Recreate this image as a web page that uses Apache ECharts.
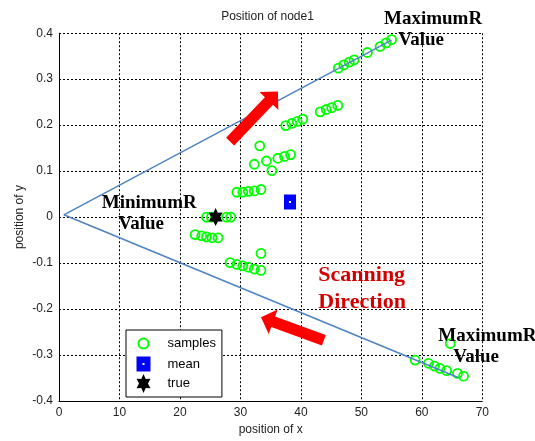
<!DOCTYPE html>
<html>
<head>
<meta charset="utf-8">
<script src="https://cdn.jsdelivr.net/npm/echarts@6/dist/echarts.min.js"></script>
<style>
  html, body { margin: 0; padding: 0; background: #fff; }
  #chart { width: 535px; height: 441px; }
</style>
</head>
<body>
<div id="chart"></div>
<script>
// Sample positions of node1 (x, y)
const sampleX = [24.4, 25.2, 27.7, 28.4,
  22.5, 23.6, 24.4, 25.3, 26.3,
  28.3, 29.4, 30.4, 31.3, 32.3, 33.4, 33.4,
  29.4, 30.4, 31.3, 32.3, 33.4,
  33.2, 32.3, 34.3, 35.2, 36.2, 37.3, 38.3,
  37.5, 38.5, 39.4, 40.3,
  43.2, 44.2, 45.1, 46.1,
  46.2, 47.1, 48.0, 48.8, 51.0, 53.1, 54.1, 55.0,
  58.9, 61.1, 62.1, 63.0, 64.1, 65.9, 66.9, 64.7];
const sampleY = [0.000, 0.000, 0.000, 0.000,
  -0.038, -0.041, -0.043, -0.045, -0.045,
  -0.099, -0.103, -0.106, -0.109, -0.113, -0.116, -0.079,
  0.054, 0.054, 0.056, 0.057, 0.060,
  0.155, 0.115, 0.122, 0.101, 0.128, 0.132, 0.136,
  0.199, 0.204, 0.208, 0.213,
  0.229, 0.234, 0.238, 0.243,
  0.324, 0.331, 0.337, 0.342, 0.358, 0.371, 0.379, 0.386,
  -0.311, -0.318, -0.324, -0.329, -0.334, -0.340, -0.346, -0.275];

const meanPos = [38.2, 0.033];
const truePos = [25.9, 0.0];

// Range boundaries of the scan sector
const upperBound = [[0.8, 0.005], [55.0, 0.385]];
const lowerBound = [[0.8, 0.005], [66.0, -0.349]];

// Scanning direction arrows: [tailX, tailY, tipX, tipY]
const scanArrows = [[28.3, 0.164, 36.2, 0.273], [43.8, -0.268, 33.4, -0.218]];

const legendNames = ['samples', 'mean', 'true'];

const sans = '"Liberation Sans", Arial, sans-serif';
const serif = '"Liberation Serif", "Times New Roman", serif';

// six-pointed star outline, w x h box, inner radius ratio k
function hexagramPath(w, h, k) {
  const sx = (w / 2) / Math.sin(Math.PI / 3), sy = h / 2;
  const pts = [];
  for (let i = 0; i < 12; i++) {
    const t = i * Math.PI / 6;
    const r = (i % 2 === 0) ? 1 : k;
    pts.push([(w / 2 + r * sx * Math.sin(t)).toFixed(2), (h / 2 - r * sy * Math.cos(t)).toFixed(2)]);
  }
  return 'path://M' + pts.map(p => p.join(',')).join('L') + 'Z';
}

const starSymbol = hexagramPath(14, 19, 0.55);
const meanSymbol = 'path://M0,0H12V15H0Z M5,6.5V8.5H7V6.5Z';
const meanLegendIcon = 'path://M0,0M0,19M0,2H14V17H0Z M6,8.5V10.5H8V8.5Z';
const circleLegendIcon = 'path://M0,0M19,19M14.5,9.5A5,5,0,1,1,4.5,9.5A5,5,0,1,1,14.5,9.5Z';

const chart = echarts.init(document.getElementById('chart'), null, { renderer: 'canvas' });

const samples = sampleX.map((x, i) => [x, sampleY[i]]);

const option = {
  animation: false,
  backgroundColor: '#fff',
  title: {
    text: 'Position of node1',
    left: 'center',
    top: 6,
    textStyle: { fontFamily: sans, fontSize: 12, fontWeight: 'normal', color: '#222' }
  },
  grid: { left: 59, top: 33.2, width: 423.3, height: 368.5 },
  xAxis: {
    type: 'value', min: 0, max: 70, interval: 10,
    name: 'position of x', nameLocation: 'middle', nameGap: 23,
    nameMoveOverlap: false,
    nameTextStyle: { fontFamily: sans, fontSize: 12, color: '#222' },
    axisLine: { show: true, onZero: false, lineStyle: { color: '#000', width: 1 } },
    axisTick: { show: false },
    axisLabel: { fontFamily: sans, fontSize: 12, color: '#222', margin: 6 },
    splitLine: { show: true, lineStyle: { color: '#000', type: [2, 2], width: 1 } }
  },
  yAxis: {
    type: 'value', min: -0.4, max: 0.4, interval: 0.1,
    name: 'position of y', nameLocation: 'middle', nameGap: 33,
    nameMoveOverlap: false,
    nameTextStyle: { fontFamily: sans, fontSize: 12, color: '#222' },
    axisLine: { show: true, onZero: false, lineStyle: { color: '#000', width: 1 } },
    axisTick: { show: false },
    axisLabel: { fontFamily: sans, fontSize: 12, color: '#222', margin: 6 },
    splitLine: { show: true, lineStyle: { color: '#000', type: [2, 2], width: 1 } }
  },
  legend: {
    orient: 'vertical',
    left: 126, top: 330,
    itemWidth: 38, itemHeight: 19, itemGap: 0.5,
    padding: [3, 6, 4, 7],
    backgroundColor: '#fff',
    borderColor: '#000', borderWidth: 1, borderRadius: 0,
    selectedMode: false,
    textStyle: { fontFamily: sans, fontSize: 13, color: '#000' },
    data: [
      { name: legendNames[0], icon: circleLegendIcon,
        itemStyle: { color: 'rgba(0,0,0,0)', borderColor: '#00ff00', borderWidth: 2 } },
      { name: legendNames[1], icon: meanLegendIcon,
        itemStyle: { color: '#0000ff', borderWidth: 0 } },
      { name: legendNames[2], icon: starSymbol,
        itemStyle: { color: '#000', borderWidth: 0 } }
    ]
  },
  series: [
    {
      name: legendNames[0], type: 'scatter', data: samples,
      symbol: 'circle', symbolSize: 9,
      itemStyle: { color: 'rgba(0,0,0,0)', borderColor: '#00ff00', borderWidth: 1.8, opacity: 1 },
      z: 3
    },
    {
      type: 'line', data: upperBound, symbol: 'none', silent: true,
      lineStyle: { color: '#4f83c2', width: 1.5 }, z: 4
    },
    {
      type: 'line', data: lowerBound, symbol: 'none', silent: true,
      lineStyle: { color: '#4f83c2', width: 1.5 }, z: 4
    },
    {
      name: legendNames[1], type: 'scatter', data: [meanPos],
      symbol: meanSymbol, symbolSize: [12, 15],
      itemStyle: { color: '#0000ff', opacity: 1 }, z: 5
    },
    {
      name: legendNames[2], type: 'scatter', data: [truePos],
      symbol: starSymbol, symbolSize: [14, 18],
      itemStyle: { color: '#000', opacity: 1 }, z: 6
    },
    {
      type: 'custom', data: scanArrows, silent: true, z: 7,
      encode: { x: [0, 2], y: [1, 3] },
      renderItem: function (params, api) {
        const a = api.coord([api.value(0), api.value(1)]);
        const b = api.coord([api.value(2), api.value(3)]);
        const dx = b[0] - a[0], dy = b[1] - a[1];
        const len = Math.hypot(dx, dy);
        const ux = dx / len, uy = dy / len, nx = -uy, ny = ux;
        const headLen = 13, headHalf = 13, shaftHalf = 5.6;
        const bx = b[0] - ux * headLen, by = b[1] - uy * headLen;
        const pts = [
          [a[0] + nx * shaftHalf, a[1] + ny * shaftHalf],
          [bx + nx * shaftHalf, by + ny * shaftHalf],
          [bx + nx * headHalf, by + ny * headHalf],
          [b[0], b[1]],
          [bx - nx * headHalf, by - ny * headHalf],
          [bx - nx * shaftHalf, by - ny * shaftHalf],
          [a[0] - nx * shaftHalf, a[1] - ny * shaftHalf]
        ];
        return { type: 'polygon', shape: { points: pts }, style: { fill: '#ff0000' } };
      }
    }
  ],
  graphic: [
    { type: 'text', x: 384, y: 19.3, z: 100,
      style: { text: 'MaximumR', font: 'bold 19px ' + serif, fill: '#000', align: 'left', verticalAlign: 'middle' } },
    { type: 'text', x: 398.3, y: 40.5, z: 100,
      style: { text: 'Value', font: 'bold 19px ' + serif, fill: '#000', align: 'left', verticalAlign: 'middle' } },
    { type: 'text', x: 101.7, y: 203.3, z: 100,
      style: { text: 'MinimumR', font: 'bold 19px ' + serif, fill: '#000', align: 'left', verticalAlign: 'middle' } },
    { type: 'text', x: 118.3, y: 224.3, z: 100,
      style: { text: 'Value', font: 'bold 19px ' + serif, fill: '#000', align: 'left', verticalAlign: 'middle' } },
    { type: 'text', x: 438.3, y: 335.8, z: 100,
      style: { text: 'MaximumR', font: 'bold 19px ' + serif, fill: '#000', align: 'left', verticalAlign: 'middle' } },
    { type: 'text', x: 453.3, y: 357, z: 100,
      style: { text: 'Value', font: 'bold 19px ' + serif, fill: '#000', align: 'left', verticalAlign: 'middle' } },
    { type: 'text', x: 318.3, y: 275.7, z: 100,
      style: { text: 'Scanning', font: 'bold 22px ' + serif, fill: '#d40000', align: 'left', verticalAlign: 'middle' } },
    { type: 'text', x: 318.3, y: 302.3, z: 100,
      style: { text: 'Direction', font: 'bold 22px ' + serif, fill: '#d40000', align: 'left', verticalAlign: 'middle' } }
  ]
};

chart.setOption(option);
</script>
</body>
</html>
